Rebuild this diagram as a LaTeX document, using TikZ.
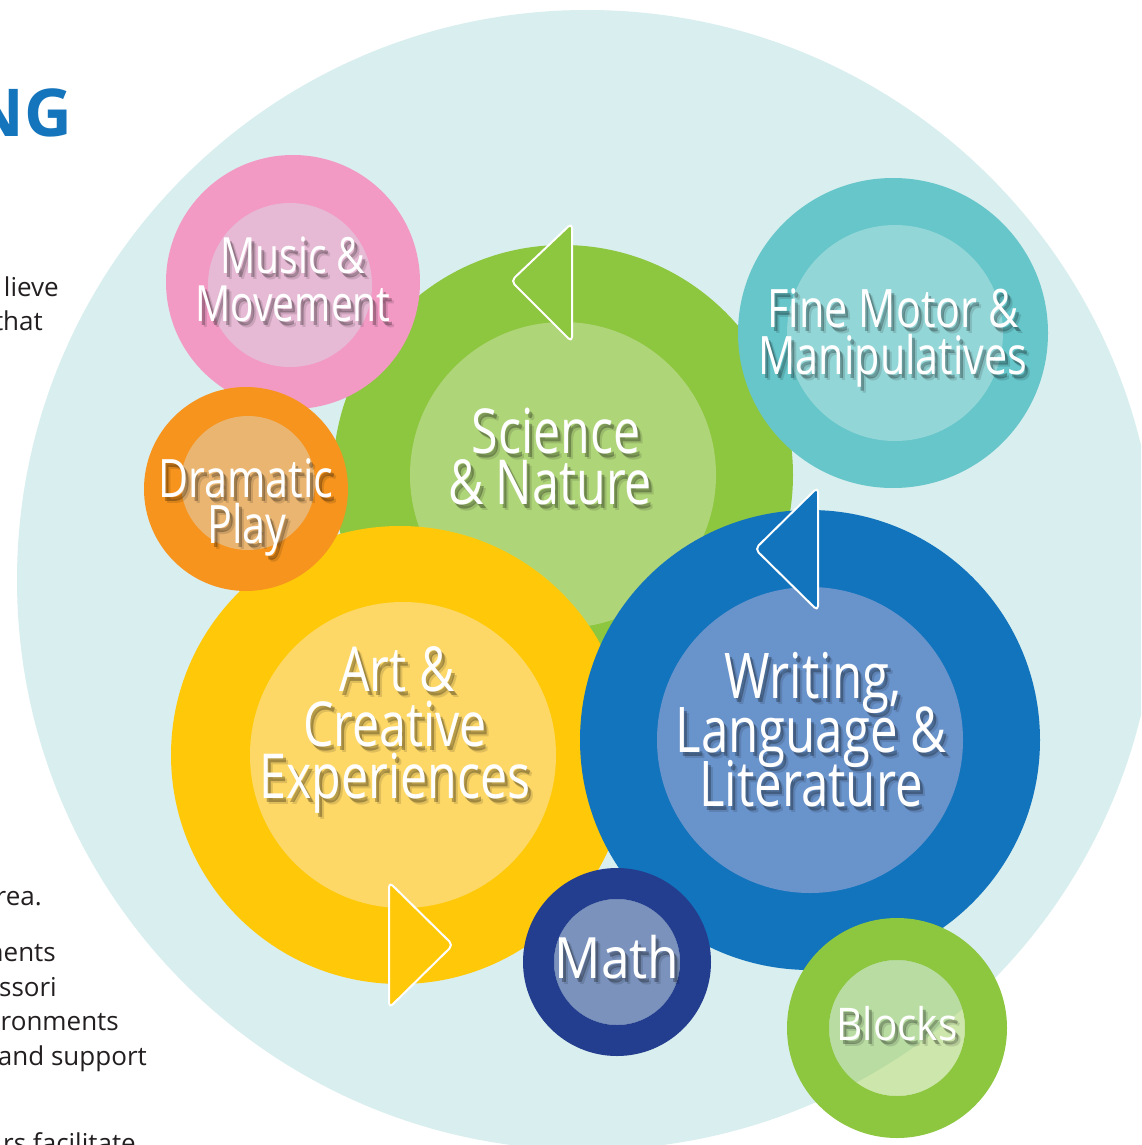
\documentclass[tikz,border=0pt]{standalone}
\usepackage{fontspec}
\setmainfont{Open Sans}
\newfontfamily\hand[FakeStretch=0.78]{Open Sans}
\newfontfamily\handw[FakeStretch=0.9]{Open Sans}
\newcommand\handsz[1]{\fontsize{#1}{#1}\selectfont}
\definecolor{bgc}{HTML}{D9EEEE}
\definecolor{pinkO}{HTML}{F29AC4}
\definecolor{pinkI}{HTML}{E6B9D4}
\definecolor{orangeO}{HTML}{F7941E}
\definecolor{orangeI}{HTML}{E9B571}
\definecolor{greenO}{HTML}{8DC63F}
\definecolor{greenI}{HTML}{AFD579}
\definecolor{tealO}{HTML}{66C6CA}
\definecolor{tealI}{HTML}{93D6D7}
\definecolor{yellowO}{HTML}{FFC90A}
\definecolor{yellowI}{HTML}{FDD867}
\definecolor{blueO}{HTML}{1174BD}
\definecolor{blueI}{HTML}{6993CB}
\definecolor{navyO}{HTML}{243E8F}
\definecolor{headblue}{HTML}{1474BC}
\definecolor{bodytext}{HTML}{231F20}
\newcommand\hlabel[5]{%
  \node[shad,font=#4,opacity=.12] (#1-s2) at (#2+5,#3+6) {#5};
  \node[shad,font=#4] (#1-s) at (#2+3,#3+4) {#5};
  \node[lbl,font=#4] (#1) at (#2,#3) {#5};}
\tikzset{
  lbl/.style={anchor=base, inner sep=0pt, text=white},
  shad/.style={anchor=base, inner sep=0pt, text=black, opacity=.28},
  body/.style={anchor=base east, inner sep=0pt, text=bodytext, font=\handsz{26}},
  tri/.style={draw=white, line width=2pt, rounded corners=5pt, line join=round},
}
\begin{document}
\begin{tikzpicture}[x=1pt,y=-1pt]
\useasboundingbox (0,0) rectangle (1141,1145);
\clip (0,0) rectangle (1141,1145);
\fill[white] (0,0) rectangle (1141,1145);
% background disc
\fill[bgc] (587,580) circle[radius=570pt];
% left page text fragments
\node[anchor=base east, inner sep=0pt, text=headblue, font=\bfseries\handsz{66}] (head) at (72,136) {NG};
\node[body] (t1) at (59,296) {lieve};
\node[body] (t2) at (43,330) {that};
\node[body] (t3) at (42,905) {rea.};
\node[body] (t4) at (56,961) {nents};
\node[body] (t5) at (57,996) {ssori};
\node[body] (t6) at (119,1030) {ronments};
\node[body] (t7) at (147,1065) {and support};
\node[body] (t8) at (136,1152) {rs facilitate};
% Science & Nature
\fill[greenO] (563,475) circle[radius=230pt];
\fill[greenI] (563,475) circle[radius=153pt];
% Music & Movement
\fill[pinkO] (293,282) circle[radius=127pt];
\fill[pinkI] (290,285) circle[radius=82pt];
% Fine Motor
\fill[tealO] (893,333) circle[radius=155pt];
\fill[tealI] (895,333) circle[radius=108pt];
% Art
\fill[yellowO] (400,755) circle[radius=229pt];
\fill[yellowI] (403,755) circle[radius=153pt];
% Dramatic Play (over Music and Art)
\fill[orangeO] (246,489) circle[radius=102pt];
\fill[orangeI] (248,483) circle[radius=67pt];
% Writing
\fill[blueO] (810,740) circle[radius=230pt];
\fill[blueI] (810,740) circle[radius=153pt];
% triangles
\filldraw[tri, fill=greenO] (572,223) -- (511,281) -- (572,342) -- cycle;
\filldraw[tri, fill=blueO] (818,487) -- (755,549) -- (818,611) -- cycle;
\filldraw[tri, fill=yellowO] (389,882) -- (453,945) -- (389,1008) -- cycle;
% Math
\fill[navyO, even odd rule] (617,962) circle[radius=94pt] (617,962) circle[radius=63pt];
\fill[navyO, opacity=.52] (617,962) circle[radius=63pt];
% Blocks
\fill[greenO, even odd rule] (897,1028) circle[radius=110pt] (897,1028) circle[radius=68pt];
\fill[greenO, opacity=.43] (897,1028) circle[radius=68pt];
% labels
\hlabel{mus1}{293}{273}{\hand\handsz{50}}{Music \&}
\hlabel{mus2}{293}{321}{\hand\handsz{50}}{Movement}
\hlabel{dra1}{246}{497}{\hand\handsz{53}}{Dramatic}
\hlabel{dra2}{247}{543}{\hand\handsz{53}}{Play}
\hlabel{sci1}{556}{453}{\hand\handsz{62}}{Science}
\hlabel{sci2}{550}{504}{\hand\handsz{62}}{\& Nature}
\hlabel{fin1}{893}{327}{\hand\handsz{53}}{Fine Motor \&}
\hlabel{fin2}{893}{374}{\hand\handsz{53}}{Manipulatives}
\hlabel{art1}{397}{691}{\hand\handsz{62}}{Art \&}
\hlabel{art2}{395}{746}{\hand\handsz{62}}{Creative}
\hlabel{art3}{395}{798}{\hand\handsz{62}}{Experiences}
\hlabel{wri1}{813}{698}{\hand\handsz{63}}{Writing,}
\hlabel{wri2}{811}{752}{\hand\handsz{63}}{Language \&}
\hlabel{wri3}{811}{806}{\hand\handsz{63}}{Literature}
\hlabel{mat}{617}{978}{\handw\handsz{57}}{Math}
\hlabel{blo}{897}{1040}{\handw\handsz{45}}{Blocks}
\end{tikzpicture}
\end{document}
